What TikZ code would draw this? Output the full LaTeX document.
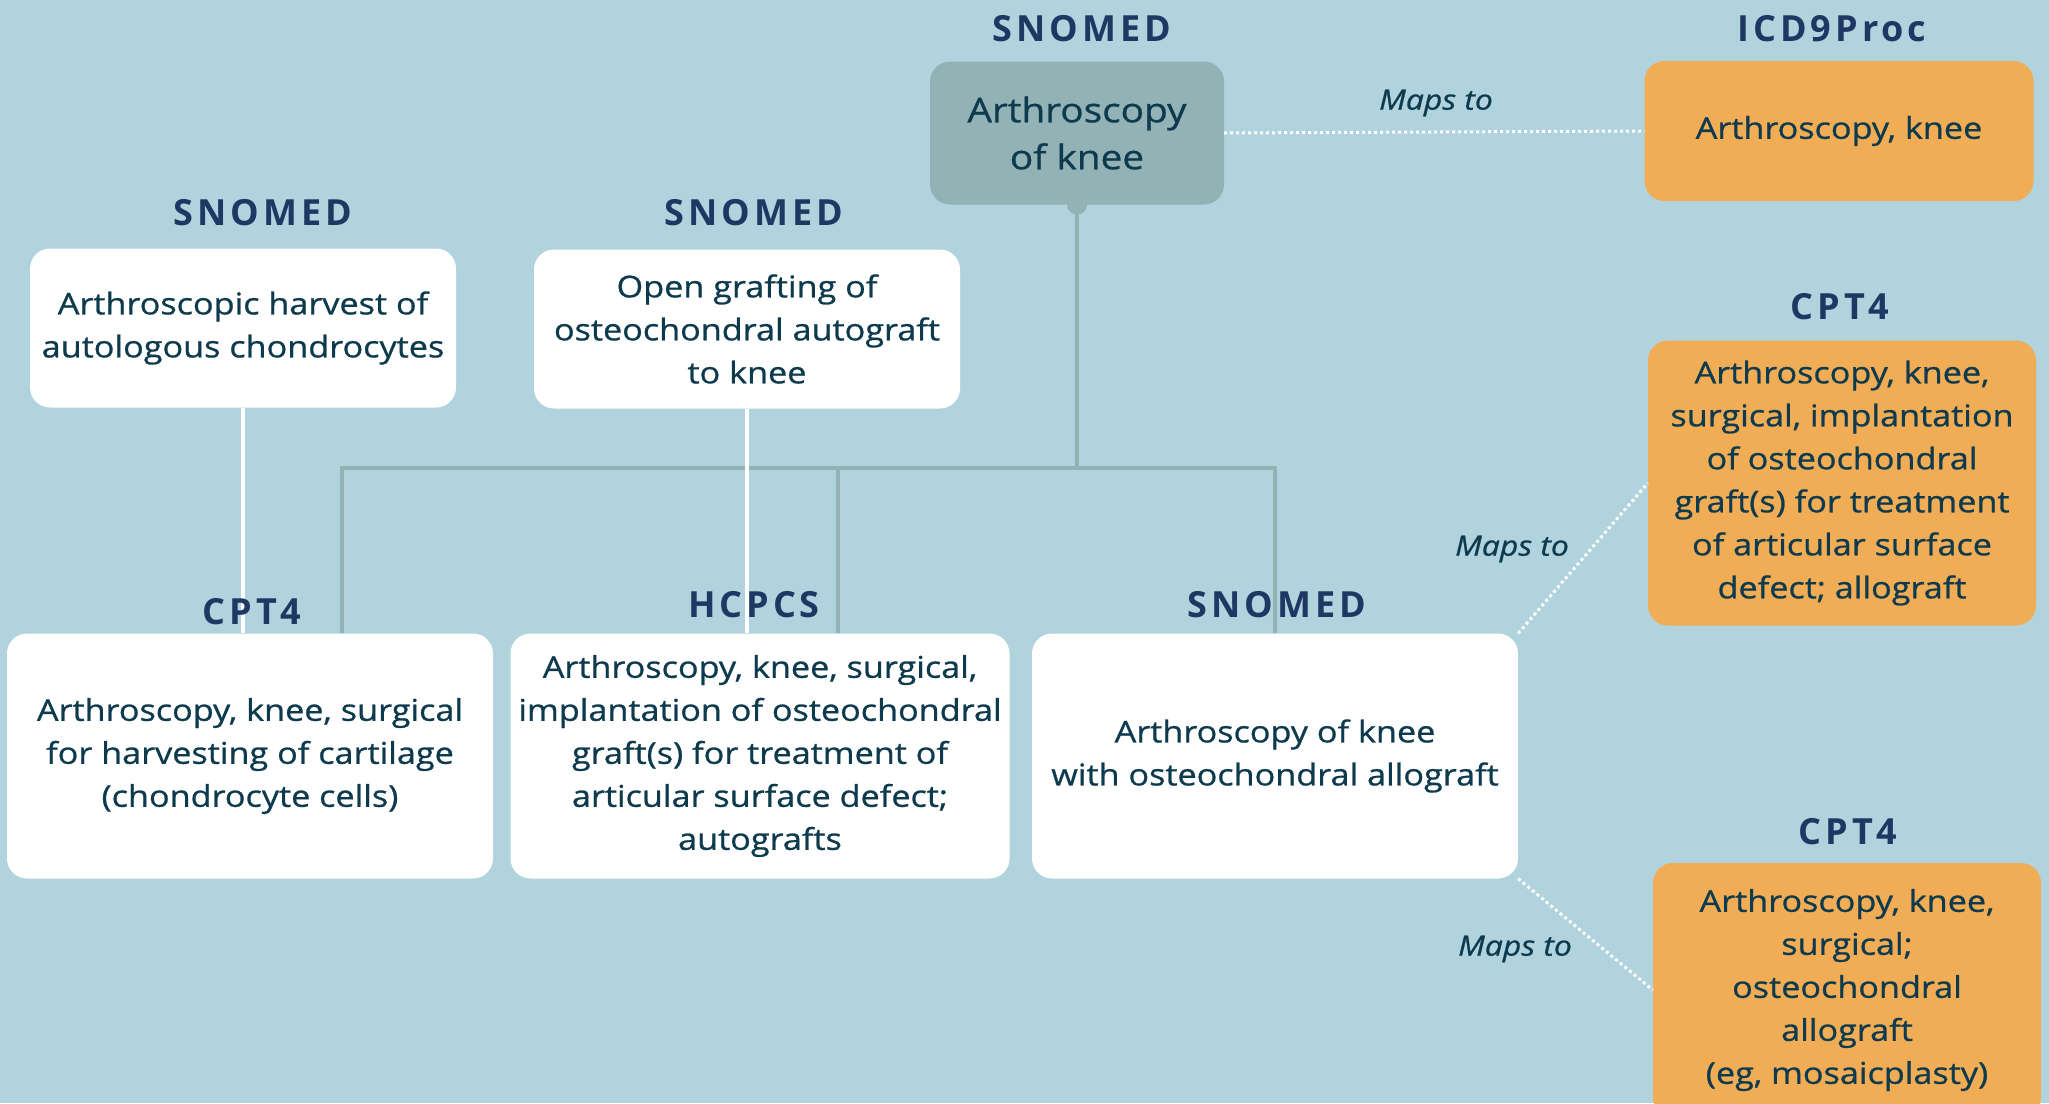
\documentclass[tikz,border=0pt]{standalone}
\usepackage{fontspec}
\setmainfont{Open Sans}
\newfontfamily\cardfont{Open Sans}[FakeStretch=1.14,FakeBold=0.8]
\usetikzlibrary{positioning}
\definecolor{sky}{HTML}{B1D3DD}
\definecolor{slate}{HTML}{93B2B6}
\definecolor{amber}{HTML}{F0AD55}
\definecolor{ink}{HTML}{0E3A4E}
\definecolor{navy}{HTML}{1F3863}
\tikzset{
  codename/.style={text=navy, inner sep=0pt, font=\fontsize{36}{40}\selectfont\bfseries\addfontfeature{LetterSpace=11}},
  card/.style={rounded corners=20pt, fill=white, text=ink, align=center, inner sep=0pt, font=\cardfont\fontsize{30}{43}\selectfont},
  mapped/.style={card, fill=amber},
  root/.style={card, fill=slate, font=\cardfont\fontsize{34}{47}\selectfont},
  tree/.style={slate, line width=4pt},
  link/.style={white, line width=4pt},
  mapline/.style={white, line width=3pt, dash pattern=on 3pt off 3pt},
  mapnote/.style={text=ink, font=\cardfont\fontsize{28}{30}\selectfont\itshape}
}
\begin{document}
\begin{tikzpicture}[x=1pt,y=-1pt]
  \clip (0,0) rectangle (2049,1103);
  \fill[sky] (0,0) rectangle (2049,1103);

  \node[root, minimum width=294pt, minimum height=143pt] (knee) at (1077,133) {Arthroscopy\\of knee};
  \node[mapped, minimum width=389pt, minimum height=140pt] (icd) at (1839,131) {Arthroscopy, knee};
  \node[card, minimum width=426pt, minimum height=159pt] (harvest) at (243,328) {Arthroscopic harvest of\\autologous chondrocytes};
  \node[card, minimum width=426pt, minimum height=159pt] (opengraft) at (747,329) {Open grafting of\\osteochondral autograft\\to knee};
  \node[card, minimum width=486pt, minimum height=245pt] (cptharvest) at (250,756) {Arthroscopy, knee, surgical\\for harvesting of cartilage\\(chondrocyte cells)};
  \node[card, minimum width=499pt, minimum height=245pt] (hcpcs) at (760,756) {Arthroscopy, knee, surgical,\\implantation of osteochondral\\graft(s) for treatment of\\articular surface defect;\\autografts};
  \node[card, minimum width=486pt, minimum height=245pt] (allograft) at (1275,756) {Arthroscopy of knee\\with osteochondral allograft};
  \node[mapped, minimum width=388pt, minimum height=285pt] (cptimpl) at (1842,483) {Arthroscopy, knee,\\surgical, implantation\\of osteochondral\\graft(s) for treatment\\of articular surface\\defect; allograft};
  \node[mapped, minimum width=388pt, minimum height=254pt] (cptmosaic) at (1847,990) {Arthroscopy, knee,\\surgical;\\osteochondral\\allograft\\(eg, mosaicplasty)};
  \fill[slate] (knee.south) circle (10pt);

  \coordinate (busleft) at (342,468);
  \coordinate (busmid) at (838,468);
  \draw[tree] (knee.south) -- (knee.south |- busleft);
  \draw[tree] (busleft |- cptharvest.north) -- (busleft) -- (allograft.north |- busleft) -- (allograft.north);
  \draw[tree] (busmid) -- (busmid |- hcpcs.north);
  \draw[link] (harvest.south) -- (harvest.south |- cptharvest.north);
  \draw[link] (opengraft.south) -- (opengraft.south |- hcpcs.north);

  \draw[mapline] (knee.east) -- (icd.west);
  \draw[mapline] (allograft.north east) -- (cptimpl.west);
  \draw[mapline] (allograft.south east) -- (cptmosaic.west);
  \node[mapnote] (mapicd) at (1436,103) {Maps to};
  \node[mapnote] (mapimpl) at (1512,549) {Maps to};
  \node[mapnote] (mapmosaic) at (1515,949) {Maps to};

  \node[codename] (kneecode) at (1082,29) {SNOMED};
  \node[codename] (icdcode) at (1832,29) {ICD9Proc};
  \node[codename] (harvestcode) at (263,213) {SNOMED};
  \node[codename] (opengraftcode) at (754,213) {SNOMED};
  \node[codename] (cptharvestcode) at (252,612) {CPT4};
  \node[codename] (hcpcscode) at (754,605) {HCPCS};
  \node[codename] (allograftcode) at (1277,605) {SNOMED};
  \node[codename] (cptimplcode) at (1840,307) {CPT4};
  \node[codename] (cptmosaiccode) at (1848,832) {CPT4};
\end{tikzpicture}
\end{document}
